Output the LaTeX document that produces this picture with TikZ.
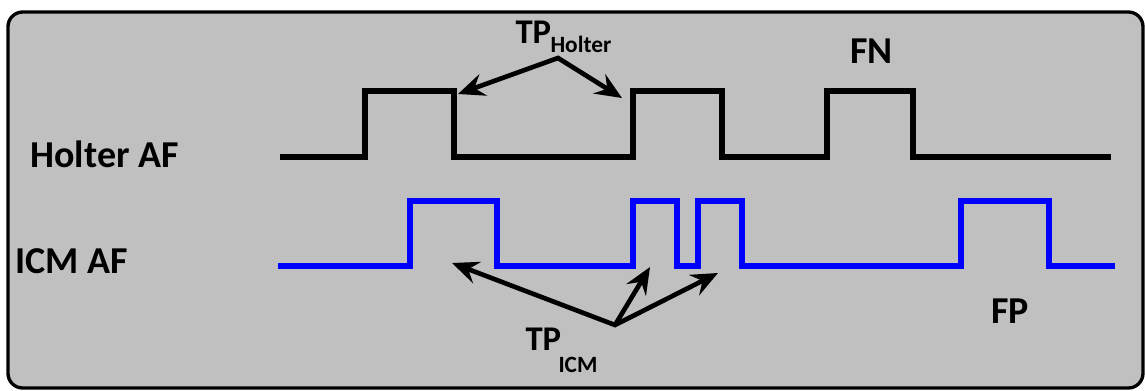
\documentclass[tikz,border=0pt]{standalone}
\usepackage{fontspec}
\setmainfont{Carlito}
\usetikzlibrary{arrows.meta}

\definecolor{panelgray}{RGB}{192,192,192}
\definecolor{icmblue}{RGB}{0,0,255}

\tikzset{every picture/.style={line width=0.75pt}}

\begin{document}
\begin{tikzpicture}[x=0.75pt,y=0.75pt,yscale=-1,xscale=1,
  sig/.style={line width=4.5pt, line join=miter},
  ptr/.style={line width=3.5pt, line join=miter, -{Stealth[length=20pt,width=17pt,inset=7pt]}},
  dblptr/.style={line width=3.5pt, line join=miter, {Stealth[length=20pt,width=17pt,inset=7pt]}-{Stealth[length=20pt,width=17pt,inset=7pt]}},
  lbl/.style={inner sep=0pt, font=\fontsize{28.5}{32}\selectfont\bfseries},
  tplbl/.style={inner sep=0pt, font=\fontsize{26}{30}\selectfont\bfseries},
  sublbl/.style={inner sep=0pt, font=\fontsize{17.5}{20}\selectfont\bfseries}]
\useasboundingbox (0,0) rectangle (1145,390);

%Shape: Rounded Rect
\draw [line width=2.5pt, fill=panelgray, rounded corners=11pt] (8,12) rectangle (1143,388);

%Holter signal
\draw [sig] (280,157) -- (365,157) -- (365,91) -- (454,91) -- (454,157) -- (633,157) -- (633,91) -- (722,91) -- (722,157) -- (827,157) -- (827,91) -- (913,91) -- (913,157) -- (1111,157);
%ICM signal
\draw [sig, icmblue] (278,266) -- (410,266) -- (410,201) -- (497,201) -- (497,266) -- (633,266) -- (633,201) -- (677,201) -- (677,266) -- (698,266) -- (698,201) -- (742,201) -- (742,266) -- (961,266) -- (961,201) -- (1049,201) -- (1049,266) -- (1115,266);

% Text Node
\node (holter) [lbl, anchor=base west] at (30,167) {Holter AF};
% Text Node
\node (icm) [lbl, anchor=base west] at (15,273) {ICM AF};
% Text Node
\node (fn) [lbl, anchor=base west] at (850,63) {FN};
% Text Node
\node (fp) [lbl, anchor=base west] at (991,323) {FP};
% Text Node
\node (tph) [tplbl, anchor=base west] at (515,43) {TP};
\node (tphsub) [sublbl, anchor=base west] at (550,52) {Holter};
% Text Node
\node (tpi) [tplbl, anchor=base west] at (525,350) {TP};
\node (tpisub) [sublbl, anchor=base west] at (558,372) {ICM};

%Pointers
\coordinate (ho) at (558,58);
\coordinate (hl) at (458,94);
\coordinate (hr) at (622,98);
\draw [dblptr] (hl) -- (ho) -- (hr);

\coordinate (io) at (615,325);
\coordinate (ia) at (452,263);
\coordinate (ib) at (650,267);
\coordinate (ic) at (718,273);
\draw [dblptr] (ia) -- (io) -- (ic);
\draw [ptr] (io) -- (ib);

\end{tikzpicture}
\end{document}
